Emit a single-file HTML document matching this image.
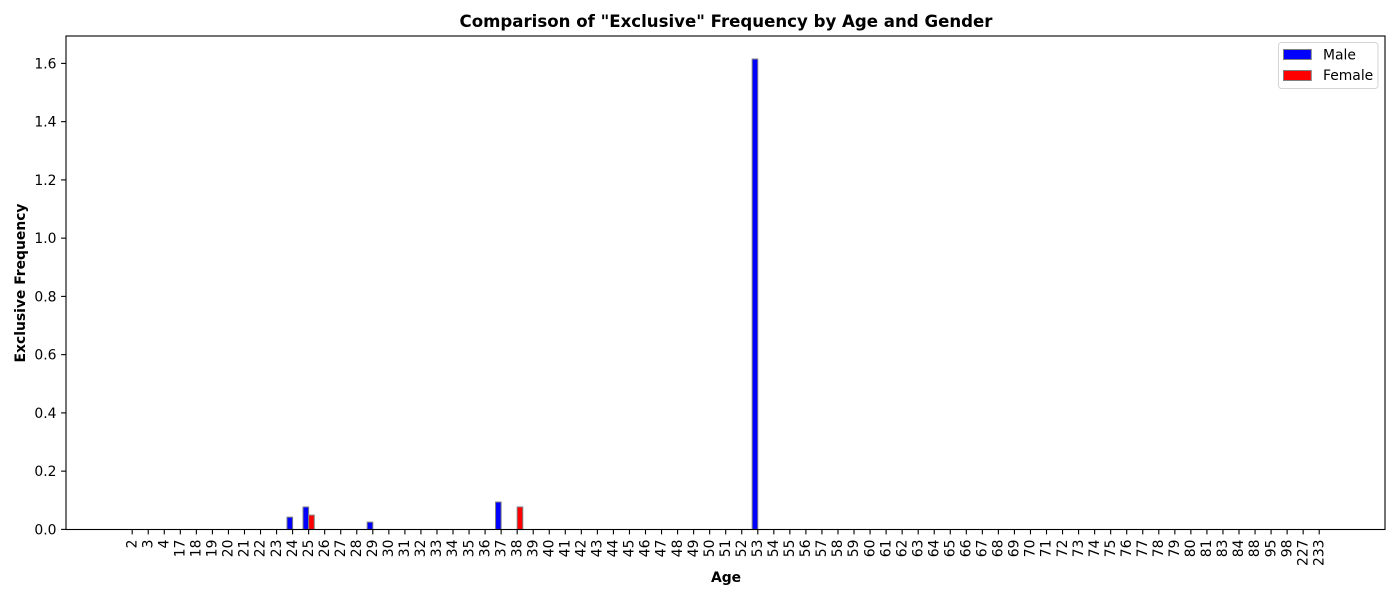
<!DOCTYPE html>
<html lang="en">
<head>
<meta charset="utf-8">
<title>Comparison of "Exclusive" Frequency by Age and Gender</title>
<style>
html,body{margin:0;padding:0;background:#fff;width:1400px;height:600px;overflow:hidden}
svg{display:block}
text{font-family:"DejaVu Sans","Liberation Sans",sans-serif;fill:#000}
</style>
</head>
<body>
<svg id="chart" xmlns="http://www.w3.org/2000/svg" width="1400" height="600" viewBox="0 0 1400 600">
  <rect x="0" y="0" width="1400" height="600" fill="#fff"/>
  <text x="726" y="27" text-anchor="middle" font-size="16.6px" font-weight="bold">Comparison of "Exclusive" Frequency by Age and Gender</text>
  <g id="bars"></g>
  <g id="x-axis"></g>
  <g id="y-axis"></g>
  <rect x="66" y="36" width="1319" height="493.5" fill="none" stroke="#000" stroke-width="1.1"/>
  <text x="726" y="582" text-anchor="middle" font-size="13.9px" font-weight="bold">Age</text>
  <text transform="translate(25,283) rotate(-90)" text-anchor="middle" font-size="13.9px" font-weight="bold">Exclusive Frequency</text>
  <g>
    <rect x="1278.5" y="42.5" width="99.5" height="46" rx="3" fill="#fff" stroke="#d5d5d5" stroke-width="1"/>
    <rect x="1283.5" y="49.5" width="27.8" height="10" fill="#0000ff" stroke="#808080" stroke-width="1"/>
    <text x="1323" y="59.5" font-size="13.9px">Male</text>
    <rect x="1283.5" y="70.5" width="27.8" height="10" fill="#ff0000" stroke="#808080" stroke-width="1"/>
    <text x="1323" y="80" font-size="13.9px">Female</text>
  </g>
</svg>
<script>
const ages = [2,3,4,17,18,19,20,21,22,23,24,25,26,27,28,29,30,31,32,33,34,35,36,37,38,39,40,41,42,43,44,45,46,47,48,49,50,51,52,53,54,55,56,57,58,59,60,61,62,63,64,65,66,67,68,69,70,71,72,73,74,75,76,77,78,79,80,81,83,84,88,95,98,227,233];
const maleValues = [0,0,0,0,0,0,0,0,0,0,0.042,0.077,0,0,0,0.025,0,0,0,0,0,0,0,0.094,0,0,0,0,0,0,0,0,0,0,0,0,0,0,0,1.615,0,0,0,0,0,0,0,0,0,0,0,0,0,0,0,0,0,0,0,0,0,0,0,0,0,0,0,0,0,0,0,0,0,0,0];
const femaleValues = [0,0,0,0,0,0,0,0,0,0,0,0.049,0,0,0,0,0,0,0,0,0,0,0,0,0.077,0,0,0,0,0,0,0,0,0,0,0,0,0,0,0,0,0,0,0,0,0,0,0,0,0,0,0,0,0,0,0,0,0,0,0,0,0,0,0,0,0,0,0,0,0,0,0,0,0];
const yTicks = [0,0.2,0.4,0.6,0.8,1.0,1.2,1.4,1.6];

const NS = 'http://www.w3.org/2000/svg';
const barWidth = 0.35;
function xScale(i){ return 132.2 + i * (1319.2 - 132.2) / 74; }
function yScale(v){ return 529.4 - v * 291.25; }
function mk(tag, attrs, parent){
  const el = document.createElementNS(NS, tag);
  for (const k in attrs) el.setAttribute(k, attrs[k]);
  parent.appendChild(el);
  return el;
}
const barsG = document.getElementById('bars');
const xG = document.getElementById('x-axis');
const yG = document.getElementById('y-axis');

function drawBar(series, i, offset, value, color){
  const x0 = xScale(i + offset);
  const w = xScale(i + offset + barWidth) - x0;
  const top = yScale(value);
  const r = mk('rect', {x: x0, y: top, width: w, height: Math.max(0, yScale(0) - top), fill: color, stroke: '#808080', 'stroke-width': 1}, barsG);
  
  
}
ages.forEach(function(age, i){
  drawBar('male', i, -barWidth, maleValues[i], '#0000ff');
  drawBar('female', i, 0, femaleValues[i], '#ff0000');
});
ages.forEach(function(age, i){
  const x = xScale(i);
  const t = mk('line', {x1: x, x2: x, y1: 529.5, y2: 534.4, stroke: '#000', 'stroke-width': 1.1}, xG);
  
  
  const l = mk('text', {transform: 'translate(' + (x + 4.2) + ',539.5) rotate(-90)', 'text-anchor': 'end', 'font-size': '13.9px'}, xG);
  
  
  l.textContent = String(age);
});
yTicks.forEach(function(v){
  const y = yScale(v);
  const t = mk('line', {x1: 61.1, x2: 66, y1: y, y2: y, stroke: '#000', 'stroke-width': 1.1}, yG);
  
  
  const l = mk('text', {x: 56.5, y: y + 5, 'text-anchor': 'end', 'font-size': '13.9px'}, yG);
  
  
  l.textContent = v.toFixed(1);
});
</script>
</body>
</html>
